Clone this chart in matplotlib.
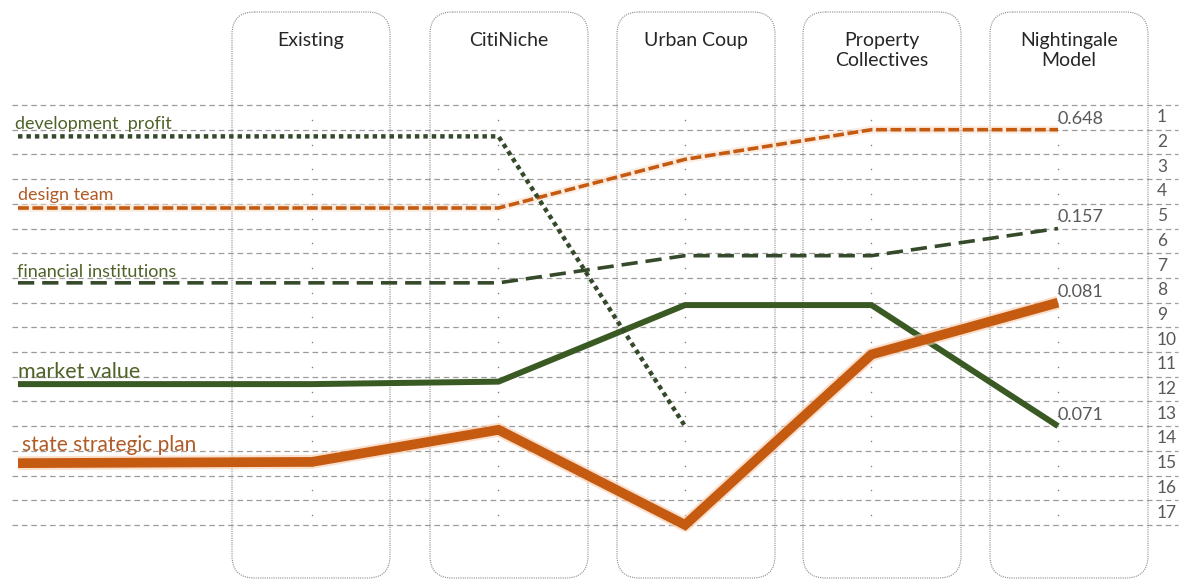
import matplotlib
matplotlib.use("Agg")
import matplotlib.pyplot as plt
from matplotlib.patches import FancyBboxPatch

plt.rcParams["font.family"] = ["Lato", "DejaVu Sans"]

# ---- data -------------------------------------------------------------
stages = ["Existing", "CitiNiche", "Urban Coup", "Property\nCollectives", "Nightingale\nModel"]
ranks = list(range(1, 18))

# rank position per column: [label anchor, Existing, CitiNiche, Urban Coup,
#                            Property Collectives, Nightingale Model]
market_value = [11.3, 11.3, 11.2, 8.1, 8.1, 13.0]
state_strategic_plan = [14.5, 14.45, 13.15, 17.0, 10.1, 8.0]
financial_institutions = [7.2, 7.2, 7.2, 6.1, 6.1, 5.0]
design_team = [4.17, 4.17, 4.17, 2.2, 1.0, 1.0]
development_profit = [1.27, 1.27, 1.27, 13.0, None, None]

end_values = {"market value": "0.071", "state strategic plan": "0.081",
              "financial institutions": "0.157", "design team": "0.648"}

# ---- layout -----------------------------------------------------------
PX_X0, PX_DX = 312.0, 186.5      # pixel x of first column, column spacing
PX_Y0, PX_DY = 105.0, 24.7       # pixel y of rank 0 grid line, rank spacing
W, H = 1180, 581

def xd(px):
    return (px - PX_X0) / PX_DX

def yd(py):
    return (py - PX_Y0) / PX_DY

anchor_x = xd(18)
col_x = [anchor_x] + list(range(len(stages)))

GREEN = "#3a5a24"
GREEN_TXT = "#4f6228"
DARK_GREEN = "#354a2a"
ORANGE = "#c55a11"
ORANGE_TXT = "#b05a25"
GREY_TXT = "#595959"

fig = plt.figure(figsize=(W / 100, H / 100), dpi=100)
ax = fig.add_axes([0, 0, 1, 1])
ax.set_xlim(xd(0), xd(W))
ax.set_ylim(yd(H), yd(0))
ax.axis("off")

# horizontal rank grid
for k in range(0, len(ranks) + 1):
    ax.plot([xd(12), xd(1178)], [k, k], color="#9c9c9c", lw=0.9,
            dashes=(4.5, 3), zorder=1)

# rank numbers on the right
for r in ranks:
    ax.text(xd(1157), r - 0.5, str(r), ha="left", va="center",
            fontsize=12.5, color=GREY_TXT, zorder=3)

# rounded column frames
box_left_px = [232, 430, 617, 803, 990]
box_w = 158 / PX_DX
for bx, label in zip(box_left_px, stages):
    patch = FancyBboxPatch((xd(bx), yd(12)), box_w, yd(578) - yd(12),
                           boxstyle="round,pad=0,rounding_size=0.12",
                           mutation_aspect=PX_DX / PX_DY,
                           fill=False, edgecolor="#8a8a8a", lw=0.8,
                           linestyle=(0, (1, 1)), zorder=2)
    ax.add_patch(patch)
    ax.text(xd(bx) + box_w / 2, yd(32), label, ha="center", va="top",
            fontsize=14, color="#262626", linespacing=1.2, zorder=3)

# small dots down the middle of each column
for i in range(len(stages)):
    ax.plot([i] * len(ranks), [r - 0.4 for r in ranks], ls="none",
            marker="o", ms=1.1, mew=0, color="#808080", zorder=2)

def draw(values, zorder, glow=None, **kw):
    xs = [x for x, v in zip(col_x, values) if v is not None]
    ys = [v for v in values if v is not None]
    if glow:
        ax.plot(xs, ys, color=glow, lw=kw["lw"] + 3, solid_capstyle="butt",
                alpha=0.6, zorder=zorder - 0.1)
    ax.plot(xs, ys, zorder=zorder, **kw)

draw(market_value, 5, color=GREEN, lw=4.3, solid_joinstyle="miter",
     solid_capstyle="butt")
draw(state_strategic_plan, 6, glow="#f8cbad", color=ORANGE, lw=7,
     solid_joinstyle="miter", solid_capstyle="butt")
draw(financial_institutions, 7, color=DARK_GREEN, lw=2.6, dashes=(4.5, 2.2))
draw(design_team, 7, glow="#fbe1cf", color=ORANGE, lw=2.6, dashes=(3, 1))
draw(development_profit, 8, color=DARK_GREEN, lw=3.2, dashes=(1, 0.9))

# series names at the left start of each line
labels = [
    ("development  profit", development_profit[0], 13, GREEN_TXT, 7, 15),
    ("design team", design_team[0], 13, ORANGE_TXT, 8, 18),
    ("financial institutions", financial_institutions[0], 13, GREEN_TXT, 6, 17),
    ("market value", market_value[0], 15.5, GREEN_TXT, 6, 18),
    ("state strategic plan", state_strategic_plan[0], 15, ORANGE_TXT, 12, 22),
]
for text, y0, size, color, gap_px, left_px in labels:
    ax.text(xd(left_px), y0 - gap_px / PX_DY, text, ha="left", va="baseline",
            fontsize=size, color=color, zorder=9)

# end values at the last column
series_values = {"market value": market_value,
                 "state strategic plan": state_strategic_plan,
                 "financial institutions": financial_institutions,
                 "design team": design_team}
for name, txt in end_values.items():
    v = series_values[name][-1]
    ax.text(4, v - 6 / PX_DY, txt, ha="left", va="baseline",
            fontsize=13, color=GREY_TXT, zorder=9)

fig.savefig("out.png", dpi=100, facecolor="white")
